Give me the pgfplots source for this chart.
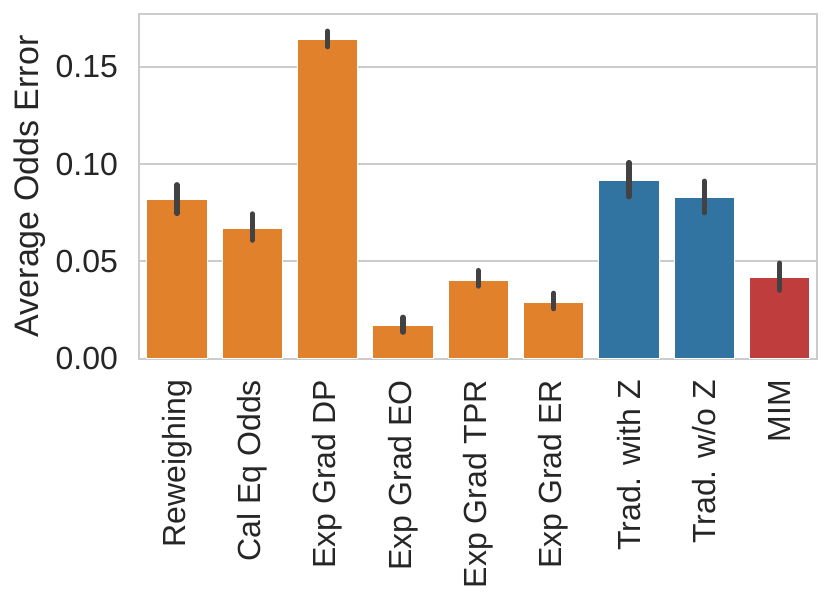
\documentclass[border=0pt]{standalone}
\usepackage{fontspec}
\setmainfont{Liberation Sans}
\usepackage{pgfplots}
\pgfplotsset{compat=1.18}
\definecolor{sorange}{HTML}{E1812C}
\definecolor{sblue}{HTML}{3274A1}
\definecolor{sred}{HTML}{C03D3E}
\definecolor{errgray}{HTML}{424242}
\definecolor{gridgray}{HTML}{CCCCCC}
\definecolor{txt}{HTML}{262626}
\begin{document}
\begin{tikzpicture}
\path[use as bounding box] (-69.65pt,-125.65pt) rectangle (345.85pt,179.35pt);
\begin{axis}[
  at={(0,0)}, anchor=south west,
  scale only axis, width=339pt, height=172.35pt,
  xmin=-0.5, xmax=8.5, ymin=0, ymax=0.1771,
  axis line style={draw=gridgray, line width=1pt},
  major tick length=0pt,
  ymajorgrids, grid style={draw=gridgray, line width=1pt},
  axis on top=false,
  xtick={0,1,2,3,4,5,6,7,8},
  xticklabels={Reweighing,Cal Eq Odds,Exp Grad DP,Exp Grad EO,Exp Grad TPR,Exp Grad ER,Trad. with Z,Trad. w/o Z,MIM},
  ytick={0,0.05,0.1,0.15},
  scaled y ticks=false,
  yticklabel style={/pgf/number format/fixed, /pgf/number format/fixed zerofill, /pgf/number format/precision=2, /pgf/number format/assume math mode=true},
  ticklabel style={font=\fontsize{16}{19}\selectfont, text=txt, inner sep=0pt},
  yticklabel style={xshift=-10.5pt},
  xticklabel style={rotate=90, anchor=east, xshift=-10.5pt},
  ylabel={Average Odds Error},
  ylabel style={font=\fontsize{17}{20}\selectfont, text=txt, inner sep=0pt},
  ylabel shift=4.75pt,
  unbounded coords=jump,
]
\addplot[ybar, bar width=0.8, bar shift=0pt, fill=sorange, draw=white, line width=0.5pt] coordinates {
  (0,0.0816) (1,0.0668) (2,0.1638) (3,0.0168) (4,0.0404) (5,0.0291)
};
\addplot[ybar, bar width=0.8, bar shift=0pt, fill=sblue, draw=white, line width=0.5pt] coordinates {
  (6,0.0918) (7,0.0826)
};
\addplot[ybar, bar width=0.8, bar shift=0pt, fill=sred, draw=white, line width=0.5pt] coordinates {
  (8,0.0418)
};
% error bars: lower and upper ends of each interval
\addplot[sharp plot, no marks, draw=errgray, line width=2.6pt, line cap=round] coordinates {
  (0,0.0746) (0,0.0894) (0,nan)
  (1,0.0609) (1,0.0744) (1,nan)
  (2,0.1603) (2,0.1683) (2,nan)
  (3,0.0136) (3,0.0213) (3,nan)
  (4,0.0373) (4,0.0453) (4,nan)
  (5,0.0257) (5,0.0336) (5,nan)
  (6,0.0832) (6,0.1008) (6,nan)
  (7,0.0750) (7,0.0912) (7,nan)
  (8,0.0352) (8,0.0491)
};
\end{axis}
\end{tikzpicture}
\end{document}
